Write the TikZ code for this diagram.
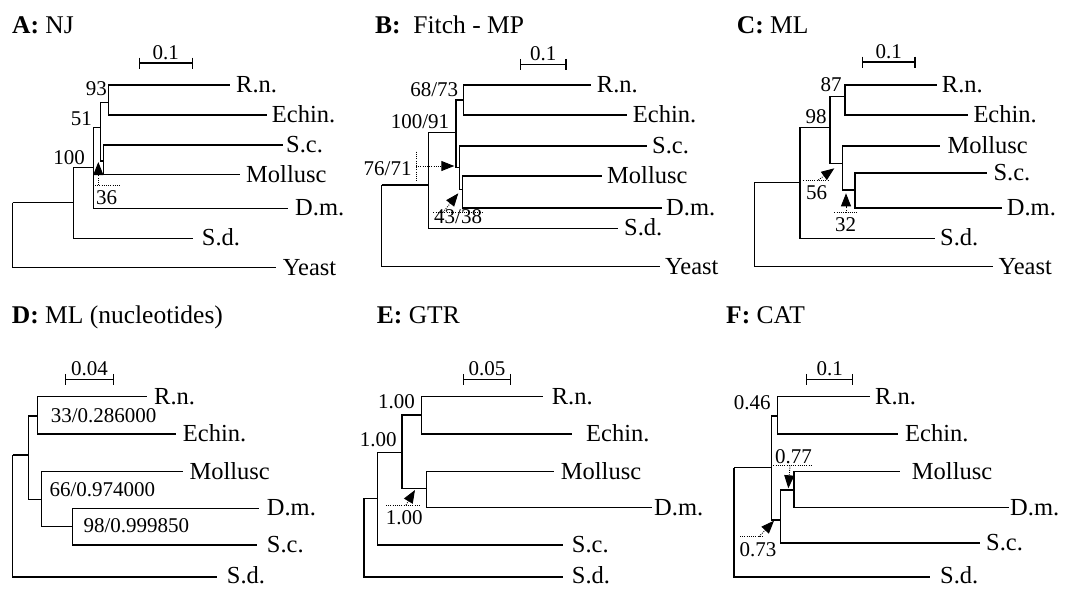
\documentclass[tikz,border=0pt]{standalone}
\usepackage{fontspec}
\setmainfont{Liberation Serif}
\usetikzlibrary{arrows.meta,calc}
\tikzset{
  x=1pt, y=-1pt,
  br/.style={line width=1.4pt},
  dots/.style={line width=0.9pt, dash pattern=on 0.9pt off 1.3pt},
  arr/.style={dots, -{Triangle[length=13pt,width=10pt]}},
  taxon/.style={anchor=base west, inner sep=0pt, font=\fontsize{24.5}{26}\selectfont},
  sup/.style={inner sep=0pt, font=\fontsize{21}{23}\selectfont},
  ttl/.style={anchor=base west, inner sep=0pt, font=\fontsize{25.5}{28}\selectfont},
}
% leaf: name, line end x, text x, y, text
\newcommand\myleaf[5]{\coordinate (#1) at (#2,#4);
  \node[taxon] (#1-t) at (#3,#4+7.6) {#5};}
% bottom leaf: text a little higher so that it stays inside the page
\newcommand\mylowleaf[5]{\coordinate (#1) at (#2,#4);
  \node[taxon] (#1-t) at (#3,#4+6) {#5};}
% scale bar: name, x1, x2, y, label
\newcommand\myscale[5]{\coordinate (#1a) at (#2,#4); \coordinate (#1b) at (#3,#4);
  \draw[br] ([yshift=5.5pt]#1a) -- ([yshift=-5.5pt]#1a) (#1a) -- (#1b)
            ([yshift=5.5pt]#1b) -- ([yshift=-5.5pt]#1b);
  \node[sup, anchor=base] (#1l) at ($(#1a)!0.5!(#1b)+(0,-4)$) {#5};}
\begin{document}
\begin{tikzpicture}
\useasboundingbox (0,0) rectangle (1065,589);

% ================= A: NJ =================
\node[ttl] (A-title) at (12,33) {\textbf{A:} NJ};
\myscale{A-s}{139.3}{192.3}{63}{0.1}
\myleaf{A-rn}{230}{236}{85}{R.n.}
\myleaf{A-ec}{266.7}{271.7}{115}{Echin.}
\myleaf{A-sc}{283}{286}{145}{S.c.}
\myleaf{A-mo}{240}{246}{174.5}{Mollusc}
\myleaf{A-dm}{288.3}{295}{208.3}{D.m.}
\myleaf{A-sd}{193.3}{201.7}{238.3}{S.d.}
\myleaf{A-ye}{276}{282.7}{267.7}{Yeast}
\coordinate (A1) at (108.3,102.7);
\coordinate (A2) at (103.3,161);
\coordinate (A3) at (100.7,127.7);
\coordinate (A4) at (93.3,167.7);
\coordinate (A5) at (73.3,202.7);
\coordinate (A0) at (12.7,202.7);
\draw[br] (A1) |- (A-rn) (A1) |- (A-ec) (A2) |- (A-sc) (A2) |- (A-mo)
  (A3) |- (A1) (A3) |- (A2) (A4) |- (A3) (A4) |- (A-dm)
  (A5) |- (A4) (A5) |- (A-sd) (A0) |- (A5) (A0) |- (A-ye);
\node[sup, anchor=base east] (A-l93) at (107,95) {93};
\node[sup, anchor=base east] (A-l51) at (92,125) {51};
\node[sup, anchor=base east] (A-l100) at (85,164) {100};
\coordinate (A-d1) at (95,185); \coordinate (A-d2) at (120,185);
\coordinate (A-as) at (98.3,185); \coordinate (A-at) at (98.3,162);
\draw[dots] (A-d1) -- (A-d2);
\draw[arr] (A-as) -- (A-at);
\node[sup, anchor=base west] (A-l36) at (96,204) {36};

% ================= B: Fitch - MP =================
\node[ttl] (B-title) at (375,33) {\textbf{B:}\ \ Fitch - MP};
\myscale{B-s}{520.7}{566}{64.3}{0.1}
\myleaf{B-rn}{590.7}{596.7}{85}{R.n.}
\myleaf{B-ec}{626.7}{632.7}{115}{Echin.}
\myleaf{B-sc}{646.7}{652}{146}{S.c.}
\myleaf{B-mo}{601.7}{607}{176}{Mollusc}
\myleaf{B-dm}{661.7}{666}{208}{D.m.}
\myleaf{B-sd}{618.3}{624}{228.3}{S.d.}
\myleaf{B-ye}{660}{665}{266.7}{Yeast}
\coordinate (B1) at (463.3,100);
\coordinate (B2) at (462.7,189.3);
\coordinate (B3) at (459.3,167.3);
\coordinate (B4) at (456,132.7);
\coordinate (B5) at (428.3,185);
\coordinate (B0) at (381.7,185);
\draw[br] (B1) |- (B-rn) (B1) |- (B-ec) (B2) |- (B-mo) (B2) |- (B-dm)
  (B3) |- (B-sc) (B3) |- (B2) (B4) |- (B1) (B4) |- (B3)
  (B5) |- (B4) (B5) |- (B-sd) (B0) |- (B5) (B0) |- (B-ye);
\node[sup, anchor=base east] (B-l6873) at (458.3,96.7) {68/73};
\node[sup, anchor=base east] (B-l10091) at (449.3,128.3) {100/91};
\node[sup, anchor=base east] (B-l7671) at (411.7,175) {76/71};
\coordinate (B-v1) at (416,151.7); \coordinate (B-v2) at (416,181.7);
\coordinate (B-as1) at (416,166); \coordinate (B-at1) at (454.3,166);
\draw[dots] (B-v1) -- (B-v2);
\draw[arr] (B-as1) -- (B-at1);
\coordinate (B-h1) at (433.3,212.3); \coordinate (B-h2) at (482.7,212.3);
\coordinate (B-as2) at (443,212.3); \coordinate (B-at2) at (458.3,193.3);
\draw[dots] (B-h1) -- (B-h2);
\draw[arr] (B-as2) -- (B-at2);
\node[sup, anchor=base west] (B-l4338) at (434,223.3) {43/38};

% ================= C: ML =================
\node[ttl] (C-title) at (736.7,33) {\textbf{C:} ML};
\myscale{C-s}{862.3}{915}{62}{0.1}
\myleaf{C-rn}{936.7}{941.7}{85}{R.n.}
\myleaf{C-ec}{968.3}{973.3}{115}{Echin.}
\myleaf{C-mo}{940}{947.3}{146}{Mollusc}
\myleaf{C-sc}{986.7}{993.3}{173}{S.c.}
\myleaf{C-dm}{1001.7}{1006.7}{208}{D.m.}
\myleaf{C-sd}{935}{940}{238.3}{S.d.}
\myleaf{C-ye}{993.3}{998.3}{266.7}{Yeast}
\coordinate (C1) at (845,96.7);
\coordinate (C2) at (855,190);
\coordinate (C3) at (842.7,163.3);
\coordinate (C4) at (830,127.7);
\coordinate (C5) at (800,182.7);
\coordinate (C0) at (754.3,182.7);
\draw[br] (C1) |- (C-rn) (C1) |- (C-ec) (C2) |- (C-sc) (C2) |- (C-dm)
  (C3) |- (C-mo) (C3) |- (C2) (C4) |- (C1) (C4) |- (C3)
  (C5) |- (C4) (C5) |- (C-sd) (C0) |- (C5) (C0) |- (C-ye);
\node[sup, anchor=base east] (C-l87) at (841.7,91.7) {87};
\node[sup, anchor=base east] (C-l98) at (826.7,123.3) {98};
\coordinate (C-h1) at (803.3,180); \coordinate (C-h2) at (828.3,180);
\coordinate (C-as1) at (818.3,180); \coordinate (C-at1) at (834.3,168.3);
\draw[dots] (C-h1) -- (C-h2);
\draw[arr] (C-as1) -- (C-at1);
\node[sup, anchor=base west] (C-l56) at (806,199.3) {56};
\coordinate (C-h3) at (834.3,212.7); \coordinate (C-h4) at (856.7,212.7);
\coordinate (C-as2) at (846,212.7); \coordinate (C-at2) at (846,193.3);
\draw[dots] (C-h3) -- (C-h4);
\draw[arr] (C-as2) -- (C-at2);
\node[sup, anchor=base west] (C-l32) at (835,231.7) {32};

% ================= D: ML (nucleotides) =================
\node[ttl] (D-title) at (11.7,323.3) {\textbf{D:} ML (nucleotides)};
\myscale{D-s}{65.7}{113.3}{379.3}{0.04}
\myleaf{D-rn}{146.7}{154}{396.7}{R.n.}
\myleaf{D-ec}{175.7}{182.7}{434}{Echin.}
\myleaf{D-mo}{183.3}{189.3}{471.7}{Mollusc}
\myleaf{D-dm}{259.3}{266.7}{508.3}{D.m.}
\myleaf{D-sc}{256.7}{266.7}{545}{S.c.}
\mylowleaf{D-sd}{216.7}{226.7}{577}{S.d.}
\coordinate (D1) at (37.7,416);
\coordinate (D2) at (72.7,526.7);
\coordinate (D3) at (41.7,499.3);
\coordinate (D4) at (28.3,455);
\coordinate (D0) at (12.7,455);
\draw[br] (D1) |- (D-rn) (D1) |- (D-ec) (D2) |- (D-dm) (D2) |- (D-sc)
  (D3) |- (D-mo) (D3) |- (D2) (D4) |- (D1) (D4) |- (D3)
  (D0) |- (D4) (D0) |- (D-sd);
\node[sup, anchor=base west] (D-l33) at (50.7,422.7) {33/0.286000};
\node[sup, anchor=base west] (D-l66) at (49.3,496) {66/0.974000};
\node[sup, anchor=base west] (D-l98) at (83.3,532.7) {98/0.999850};

% ================= E: GTR =================
\node[ttl] (E-title) at (376.7,323.3) {\textbf{E:} GTR};
\myscale{E-s}{463.3}{510.7}{379.3}{0.05}
\myleaf{E-rn}{542.7}{551.7}{396.7}{R.n.}
\myleaf{E-ec}{571.7}{586}{434}{Echin.}
\myleaf{E-mo}{554}{560.7}{471.7}{Mollusc}
\myleaf{E-dm}{651.7}{654}{507.7}{D.m.}
\myleaf{E-sc}{563.3}{571.7}{545}{S.c.}
\mylowleaf{E-sd}{563.3}{571.7}{577}{S.d.}
\coordinate (E1) at (421.7,415);
\coordinate (E2) at (426.5,488.3);
\coordinate (E3) at (402,452.7);
\coordinate (E4) at (377.3,498.3);
\coordinate (E0) at (364,498.3);
\draw[br] (E1) |- (E-rn) (E1) |- (E-ec) (E2) |- (E-mo) (E2) |- (E-dm)
  (E3) |- (E1) (E3) |- (E2) (E4) |- (E3) (E4) |- (E-sc)
  (E0) |- (E4) (E0) |- (E-sd);
\node[sup, anchor=base east] (E-l1) at (415,408.3) {1.00};
\node[sup, anchor=base east] (E-l2) at (396.7,446.7) {1.00};
\coordinate (E-h1) at (386,505); \coordinate (E-h2) at (420.7,505);
\coordinate (E-as) at (406,505); \coordinate (E-at) at (415,490);
\draw[dots] (E-h1) -- (E-h2);
\draw[arr] (E-as) -- (E-at);
\node[sup, anchor=base west] (E-l3) at (385.7,524) {1.00};

% ================= F: CAT =================
\node[ttl] (F-title) at (726,323.3) {\textbf{F:} CAT};
\myscale{F-s}{806.7}{852.7}{379.3}{0.1}
\myleaf{F-rn}{870}{875}{396.7}{R.n.}
\myleaf{F-ec}{898.3}{905}{434}{Echin.}
\myleaf{F-mo}{900}{911.7}{471.7}{Mollusc}
\myleaf{F-dm}{1009.3}{1010}{507.7}{D.m.}
\myleaf{F-sc}{980}{986}{543}{S.c.}
\mylowleaf{F-sd}{930}{940}{577}{S.d.}
\coordinate (F1) at (777.7,416);
\coordinate (F2) at (794,490);
\coordinate (F3) at (780.7,520);
\coordinate (F4) at (771.7,467.7);
\coordinate (F0) at (734,467.7);
\draw[br] (F1) |- (F-rn) (F1) |- (F-ec) (F2) |- (F-mo) (F2) |- (F-dm)
  (F3) |- (F2) (F3) |- (F-sc) (F4) |- (F1) (F4) |- (F3)
  (F0) |- (F4) (F0) |- (F-sd);
\node[sup, anchor=base east] (F-l46) at (770.7,409) {0.46};
\coordinate (F-h1) at (773.3,465.5); \coordinate (F-h2) at (811.7,465.5);
\coordinate (F-as1) at (790,465.5); \coordinate (F-at1) at (788.3,488.3);
\draw[dots] (F-h1) -- (F-h2);
\draw[arr] (F-as1) -- (F-at1);
\node[sup, anchor=base west] (F-l77) at (775,463.5) {0.77};
\coordinate (F-h3) at (740,536.7); \coordinate (F-h4) at (763.3,536.7);
\coordinate (F-as2) at (759,536.7); \coordinate (F-at2) at (774,520.7);
\draw[dots] (F-h3) -- (F-h4);
\draw[arr] (F-as2) -- (F-at2);
\node[sup, anchor=base west] (F-l73) at (739.3,556.7) {0.73};
\end{tikzpicture}
\end{document}
